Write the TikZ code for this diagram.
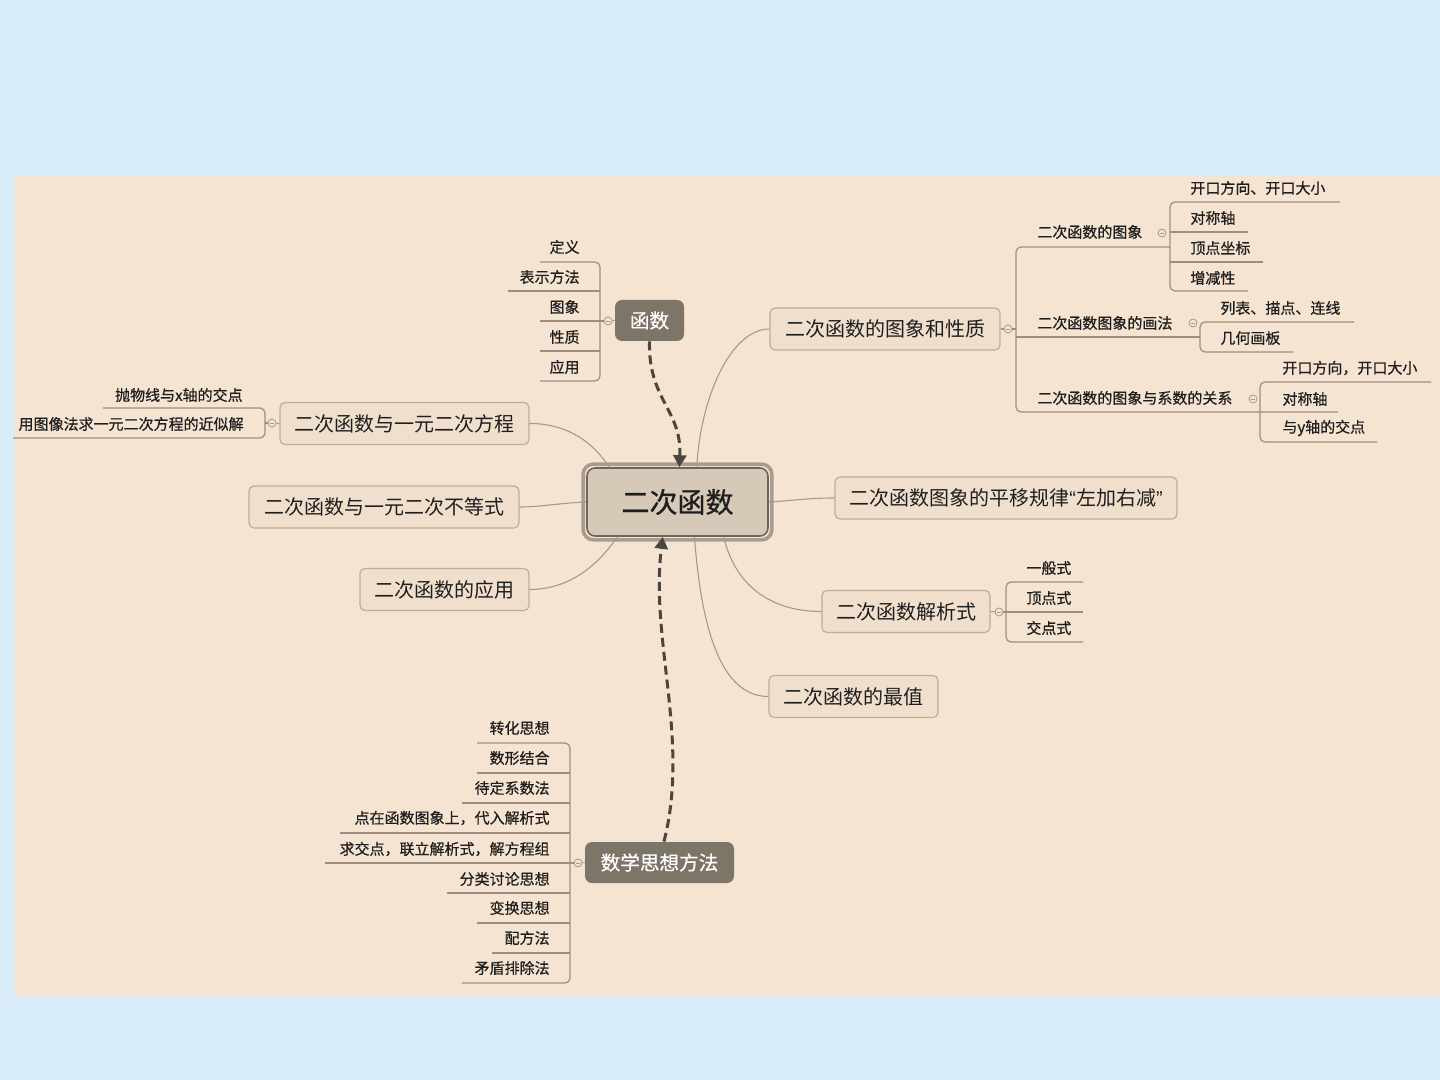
\documentclass[tikz,border=0pt]{standalone}
\usepackage{fontspec}
\setmainfont{Noto Sans CJK SC}
\newfontfamily\leaffont{Noto Sans CJK SC}[FakeBold=0.6]
\newfontfamily\centerfont{Noto Sans CJK SC}[FakeBold=0.8]
\newfontfamily\quotefont{Liberation Sans}
\usetikzlibrary{arrows.meta}
\definecolor{bgblue}{HTML}{D8ECF8}
\definecolor{panel}{HTML}{F5E4D1}
\definecolor{topicfill}{HTML}{F0DFCD}
\definecolor{topicline}{HTML}{BDAD9C}
\definecolor{centerfill}{HTML}{D7C9B7}
\definecolor{centerline}{HTML}{6E645A}
\definecolor{centerframe}{HTML}{A89C90}
\definecolor{darkbox}{HTML}{7E7569}
\definecolor{conncol}{HTML}{A89988}
\definecolor{uline}{HTML}{9D8E7F}
\definecolor{arrowc}{HTML}{4B4540}
\definecolor{ink}{HTML}{1E1E1E}
\begin{document}
\begin{tikzpicture}[x=0.5pt,y=-0.5pt,
  topic/.style={draw=topicline, line width=0.6pt, fill=topicfill, rounded corners=2.5pt, minimum height=21pt, inner sep=0pt, font=\fontsize{10}{12}\selectfont, text=ink},
  darktopic/.style={fill=darkbox, rounded corners=3.5pt, minimum height=20.5pt, inner sep=0pt, font=\leaffont\fontsize{9.8}{12}\selectfont, text=white},
  leaf/.style={inner sep=0pt, font=\leaffont\fontsize{7.5}{9}\selectfont, text=ink},
  leafL/.style={leaf, anchor=east},
  leafR/.style={leaf, anchor=west},
  connector/.style={draw=conncol, line width=0.55pt},
  ul/.style={draw=uline, line width=0.6pt, rounded corners=2.5pt},
  fold/.style={circle, draw=conncol, fill=panel, line width=0.4pt, minimum size=4pt, inner sep=0pt,
    path picture={\draw[conncol, line width=0.3pt] ([xshift=-1.1pt]path picture bounding box.center) -- ([xshift=1.1pt]path picture bounding box.center);}},
  dasharrow/.style={draw=arrowc, line width=1.5pt, dash pattern=on 4.5pt off 2.5pt, -{Triangle[length=6pt,width=6.5pt]}},
]
\fill[bgblue] (0,0) rectangle (1440,1080);
\useasboundingbox (0,0) rectangle (1440,1080);
\fill[panel] (13,176) rectangle (1440,996);

% central topic
\node[draw=centerline, line width=0.8pt, fill=centerfill, rounded corners=4pt, minimum width=90.5pt, minimum height=34pt, inner sep=0pt, font=\centerfont\fontsize{14}{16}\selectfont, text=ink] (c) at (677.5,502) {二次函数};
\draw[centerframe, line width=1.8pt, rounded corners=5pt] ([shift={(-3,-3)}]c.north west) rectangle ([shift={(3,3)}]c.south east);

% main topics
\node[topic, minimum width=115pt] (t1) at (885,329) {二次函数的图象和性质};
\node[topic, minimum width=171pt] (t2) at (1006,498) {二次函数图象的平移规律{\quotefont“}左加右减{\quotefont”}};
\node[topic, minimum width=84pt] (t3) at (906,611.5) {二次函数解析式};
\node[topic, minimum width=84.5pt] (t4) at (853.5,696.5) {二次函数的最值};
\node[topic, minimum width=84.5pt] (t5) at (444.5,589.5) {二次函数的应用};
\node[topic, minimum width=135pt] (t6) at (384,507) {二次函数与一元二次不等式};
\node[topic, minimum width=124.5pt] (t7) at (404.5,423.5) {二次函数与一元二次方程};
\node[darktopic, minimum width=34.5pt] (f) at (649.5,320.5) {函数};
\node[darktopic, minimum width=74.5pt] (m) at (659.5,862.5) {数学思想方法};

% connectors from centre
\draw[connector] (c.61) .. controls (700,400) and (730,329) .. (t1.west);
\draw[connector] (c.east) .. controls (800,500) and (810,498) .. (t2.west);
\draw[connector] (c.-37) .. controls (735,585) and (770,611.5) .. (t3.west);
\draw[connector] (c.-64) .. controls (702,640) and (725,696.5) .. (t4.west);
\draw[connector] (c.210) .. controls (595,570) and (565,589.5) .. (t5.east);
\draw[connector] (c.west) .. controls (560,503) and (540,507) .. (t6.east);
\draw[connector] (c.153) .. controls (595,445) and (570,423.5) .. (t7.east);

% dashed relationship arrows
\draw[dasharrow] (f.south) .. controls (648,400) and (682,410) .. (c.87);
\draw[dasharrow] (m.78) .. controls (690,740) and (650,640) .. (c.-113);

% ---- 函数 group
\node[fold] (ff) at (608,321) {};
\draw[connector] (f.west) -- (ff);
\draw[ul] (540,262) -- (600,262) -- (600,381) -- (540,381);
\draw[ul] (508,291) -- (600,291);
\draw[ul] (540,321) -- (ff.west);
\draw[ul] (540,351) -- (600,351);
\node[leafL] (fa) at (580,247) {定义};
\node[leafL] (fb) at (580,277) {表示方法};
\node[leafL] (fc) at (580,307) {图象};
\node[leafL] (fd) at (580,337) {性质};
\node[leafL] (fe) at (580,367) {应用};

% ---- 方程 group
\node[fold] (f7) at (272,423) {};
\draw[connector] (t7.west) -- (f7);
\draw[ul] (f7.west) -- (265,423);
\draw[ul] (103,408) -- (265,408) -- (265,438) -- (13,438);
\node[leafL] (e1) at (243,395) {抛物线与x轴的交点};
\node[leafL] (e2) at (244,424) {用图像法求一元二次方程的近似解};

% ---- 图象和性质 group
\node[fold] (f1) at (1008,329) {};
\draw[connector] (t1.east) -- (f1);
\draw[ul] (f1.east) -- (1016,329);
\draw[ul] (1170,247) -- (1016,247) -- (1016,412) -- (1338,412);
\draw[ul] (1016,337) -- (1200,337);
\node[leafR] (g1) at (1037,232) {二次函数的图象};
\node[leafR] (g2) at (1037,323) {二次函数图象的画法};
\node[leafR] (g3) at (1037,398) {二次函数的图象与系数的关系};
\node[fold] (fg1) at (1162,233) {};
\node[fold] (fg2) at (1193,323) {};
\node[fold] (fg3) at (1253,399) {};
% sub A
\draw[ul] (1340,202) -- (1170,202) -- (1170,291) -- (1248,291);
\draw[ul] (1170,232) -- (1248,232);
\draw[ul] (1170,262) -- (1263,262);
\node[leafR] (a1) at (1190,188) {开口方向、开口大小};
\node[leafR] (a2) at (1190,218) {对称轴};
\node[leafR] (a3) at (1190,248) {顶点坐标};
\node[leafR] (a4) at (1190,278) {增减性};
% sub B
\draw[ul] (1354,322) -- (1200,322) -- (1200,352) -- (1293,352);
\node[leafR] (b1) at (1220,308) {列表、描点、连线};
\node[leafR] (b2) at (1220,338) {几何画板};
% sub C
\draw[ul] (1431,382) -- (1260,382) -- (1260,442) -- (1377,442);
\node[leafR] (d1) at (1282,368) {开口方向，开口大小};
\node[leafR] (d2) at (1282,399) {对称轴};
\node[leafR] (d3) at (1282,428) {与y轴的交点};

% ---- 解析式 group
\node[fold] (f3) at (999,612) {};
\draw[connector] (t3.east) -- (f3);
\draw[ul] (f3.east) -- (1006,612);
\draw[ul] (1083,582) -- (1006,582) -- (1006,642) -- (1083,642);
\draw[ul] (1006,612) -- (1083,612);
\node[leafR] (h1) at (1026,568) {一般式};
\node[leafR] (h2) at (1026,598) {顶点式};
\node[leafR] (h3) at (1026,628) {交点式};

% ---- 数学思想方法 group
\node[fold] (fm) at (578,863) {};
\draw[connector] (m.west) -- (fm);
\draw[ul] (477,743) -- (570,743) -- (570,983) -- (462,983);
\draw[ul] (477,773) -- (570,773);
\draw[ul] (462,803) -- (570,803);
\draw[ul] (340,833) -- (570,833);
\draw[ul] (325,863) -- (fm.west);
\draw[ul] (447,893) -- (570,893);
\draw[ul] (477,923) -- (570,923);
\draw[ul] (492,953) -- (570,953);
\node[leafL] (k1) at (550,728) {转化思想};
\node[leafL] (k2) at (550,758) {数形结合};
\node[leafL] (k3) at (550,788) {待定系数法};
\node[leafL] (k4) at (550,818) {点在函数图象上，代入解析式};
\node[leafL] (k5) at (550,849) {求交点，联立解析式，解方程组};
\node[leafL] (k6) at (550,879) {分类讨论思想};
\node[leafL] (k7) at (550,908) {变换思想};
\node[leafL] (k8) at (550,938) {配方法};
\node[leafL] (k9) at (550,968) {矛盾排除法};
\end{tikzpicture}
\end{document}
